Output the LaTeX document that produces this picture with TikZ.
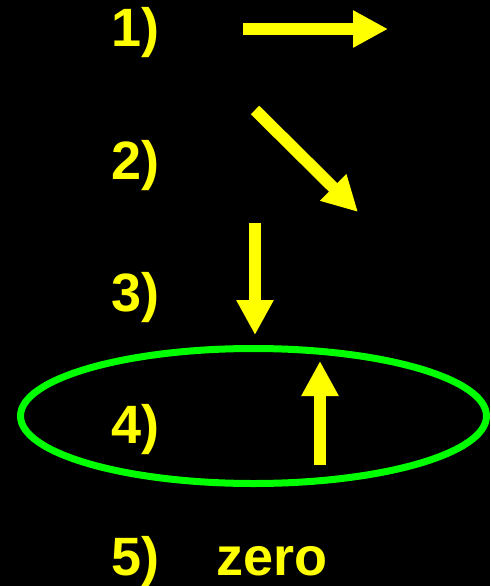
\documentclass[tikz,border=0pt]{standalone}
\usepackage{fontspec}
\setmainfont{Liberation Sans}
\usetikzlibrary{arrows.meta}
\definecolor{ylw}{RGB}{255,255,0}
\definecolor{grn}{RGB}{0,255,0}
\begin{document}
\begin{tikzpicture}[x=1pt,y=-1pt,
  lbl/.style={anchor=base west,inner sep=0pt,text=ylw,font=\bfseries\fontsize{54}{54}\selectfont},
  fatarrow/.style={draw=ylw,line width=12pt,-{Triangle[length=35pt,width=35pt,fill=ylw]}}]
\fill[black] (0,0) rectangle (490,586);
\useasboundingbox (0,0) rectangle (490,586);
\node[lbl] (l1) at (111,47) {1)};
\node[lbl] (l2) at (111,179) {2)};
\node[lbl] (l3) at (111,311) {3)};
\node[lbl] (l4) at (111,443) {4)};
\node[lbl] (l5) at (111,575) {5)};
\node[lbl] (zero) at (216,575) {zero};
\coordinate (a1s) at (243,29);
\coordinate (a1e) at (388,29);
\coordinate (a2s) at (255,110);
\coordinate (a2e) at (358,212);
\coordinate (a3s) at (255,223);
\coordinate (a3e) at (255,335);
\coordinate (a4s) at (320,465);
\coordinate (a4e) at (320,361);
\draw[fatarrow] (a1s) -- (a1e);
\draw[fatarrow] (a2s) -- (a2e);
\draw[fatarrow] (a3s) -- (a3e);
\draw[fatarrow] (a4s) -- (a4e);
\draw[grn,line width=7pt] (253.5,416) ellipse [x radius=233, y radius=67.5];
\end{tikzpicture}
\end{document}
